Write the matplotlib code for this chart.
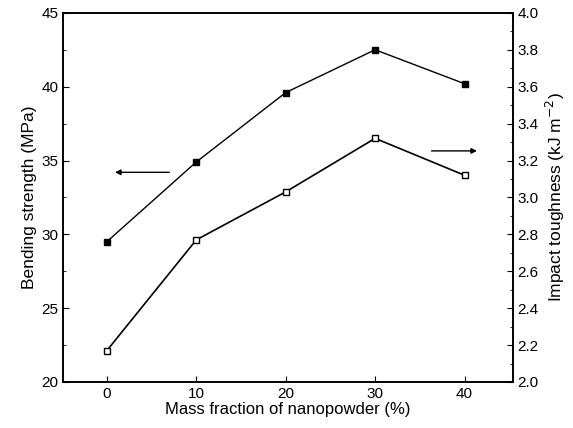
import matplotlib
matplotlib.use('Agg')
import matplotlib.pyplot as plt
from matplotlib.ticker import MultipleLocator

plt.rcParams['font.family'] = ['Liberation Sans', 'DejaVu Sans']

# data
mass_fraction = [0, 10, 20, 30, 40]
bending_strength = [29.5, 34.9, 39.6, 42.5, 40.2]
impact_toughness = [2.17, 2.77, 3.03, 3.32, 3.12]

fig = plt.figure(figsize=(5.73, 4.28), dpi=100)
ax = fig.add_axes([0.110, 0.1075, 0.785, 0.8625])
ax2 = ax.twinx()

ax.plot(mass_fraction, bending_strength, 'k-', lw=1, marker='s', ms=5,
        mfc='black', mec='black')
ax2.plot(mass_fraction, impact_toughness, 'k-', lw=1.2, marker='s', ms=5,
         mfc='white', mec='black')

ax.set_xlim(-4.9, 45.4)
ax.set_ylim(20, 45)
ax2.set_ylim(2.0, 4.0)

ax.xaxis.set_major_locator(MultipleLocator(10))
ax.yaxis.set_major_locator(MultipleLocator(5))
ax.yaxis.set_minor_locator(MultipleLocator(2.5))
ax2.yaxis.set_major_locator(MultipleLocator(0.2))
ax2.yaxis.set_minor_locator(MultipleLocator(0.1))
ax2.yaxis.set_major_formatter(plt.FormatStrFormatter('%.1f'))

ax.tick_params(axis='both', which='both', direction='in', labelsize=11)
ax.tick_params(which='major', length=4)
ax.tick_params(which='minor', length=2)
ax.tick_params(axis='y', right=False)
ax2.tick_params(axis='y', which='both', direction='in', labelsize=11)
ax2.tick_params(which='major', length=4)
ax2.tick_params(which='minor', length=2)

for a in (ax, ax2):
    for s in a.spines.values():
        s.set_linewidth(1.2)

ax.set_xlabel('Mass fraction of nanopowder (%)', fontsize=12, labelpad=1)
ax.set_ylabel('Bending strength (MPa)', fontsize=12.5, labelpad=3)
ax2.set_ylabel('Impact toughness (kJ m$^{-2}$)', fontsize=12.5, labelpad=4)

# direction arrows
ax.annotate('', xy=(0.6, 34.2), xytext=(7.3, 34.2),
            arrowprops=dict(arrowstyle='-|>', color='black', lw=1,
                            mutation_scale=8))
ax.annotate('', xy=(41.7, 35.65), xytext=(36.0, 35.65),
            arrowprops=dict(arrowstyle='-|>', color='black', lw=1,
                            mutation_scale=8))

fig.savefig('out.png', dpi=100)
